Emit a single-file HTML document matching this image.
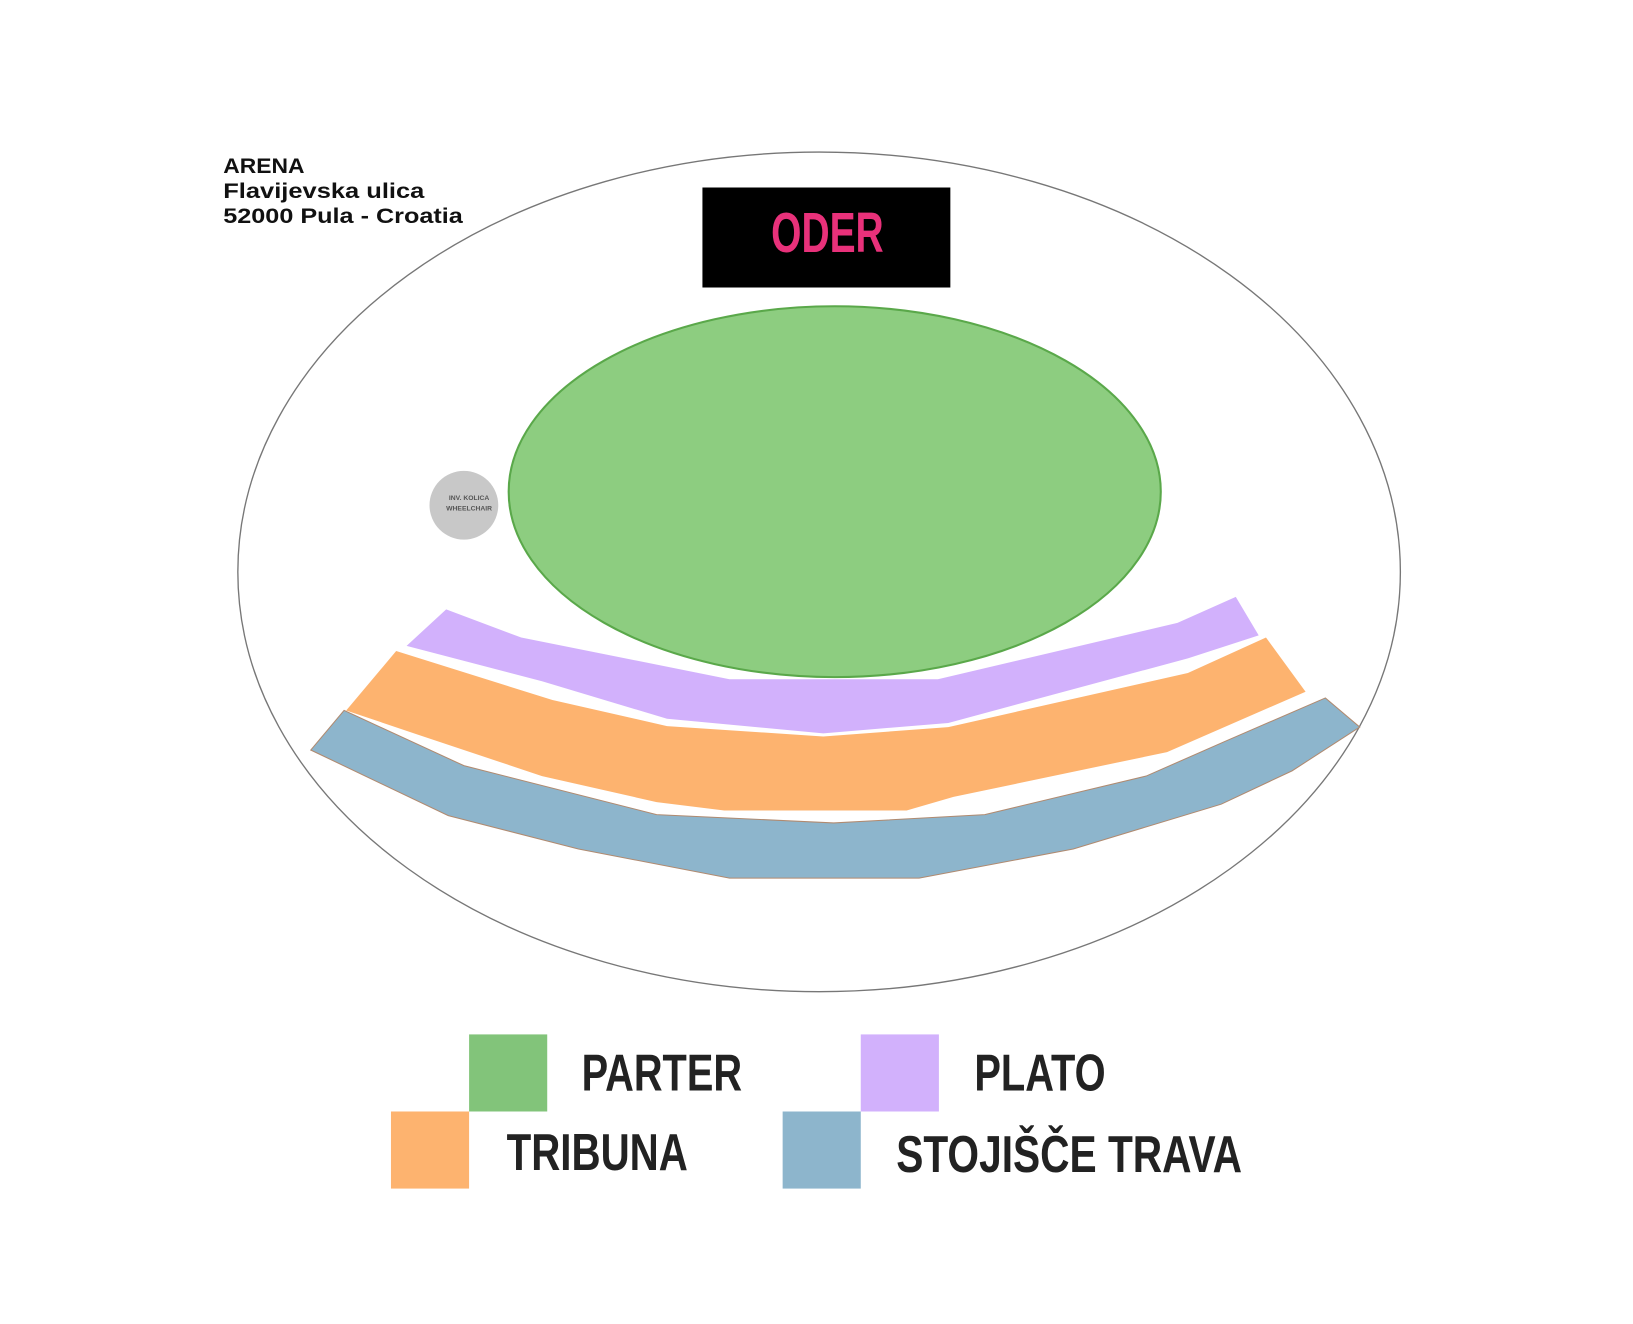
<!DOCTYPE html>
<html><head><meta charset="utf-8"><style>
html,body{margin:0;padding:0;background:#fff;}
svg{display:block;}
.n{font-family:"Liberation Sans Narrow","Liberation Sans",sans-serif;font-weight:bold;}
</style></head><body>
<svg width="1633" height="1324" viewBox="0 0 1567 1271" xmlns="http://www.w3.org/2000/svg">
<rect width="1567" height="1271" fill="#fff"/>
<ellipse cx="786" cy="549" rx="558" ry="403" fill="none" stroke="#777" stroke-width="1.3"/>
<g font-family="Liberation Sans, sans-serif" font-weight="bold" font-size="20" fill="#111">
<text x="214" y="166" textLength="78" lengthAdjust="spacingAndGlyphs">ARENA</text>
<text x="214" y="190" textLength="193" lengthAdjust="spacingAndGlyphs">Flavijevska ulica</text>
<text x="214" y="214" textLength="230" lengthAdjust="spacingAndGlyphs">52000 Pula - Croatia</text>
</g>
<rect x="674" y="180" width="238" height="96" fill="#000"/>
<text class="n" x="740" y="242" font-size="54" fill="#e8317a" textLength="108" lengthAdjust="spacingAndGlyphs">ODER</text>
<ellipse cx="801" cy="472" rx="313" ry="178" fill="#8dcd80" stroke="#5aa84a" stroke-width="2"/>
<circle cx="445" cy="485" r="33" fill="#c8c8c8"/>
<g font-family="Liberation Sans, sans-serif" font-weight="bold" font-size="6.5" fill="#555" text-anchor="middle">
<text x="450" y="480">INV. KOLICA</text><text x="450" y="490">WHEELCHAIR</text></g>
<polygon points="390,620 428,585 500,612 700,652 900,652 1130,598 1186,573 1208,610 1140,632 910,694 790,704 640,690 520,654" fill="#d2b1fc"/>
<polygon points="332,682 380,625 530,672 640,697 790,707 910,698 1140,646 1215,612 1253,664 1120,722 915,765 870,778 695,778 630,770 520,745 400,705" fill="#fdb36f"/>
<polygon points="298,720 330,682 445,735 630,782 800,790 945,782 1100,745 1175,712 1272,670 1305,698 1240,740 1172,772 1030,815 882,843 700,843 555,815 430,783" fill="#8db5cc" stroke="#b08a70" stroke-width="1"/>
<rect x="450" y="993" width="75" height="74" fill="#82c47a"/>
<rect x="826" y="993" width="75" height="74" fill="#d2b1fc"/>
<rect x="375" y="1067" width="75" height="74" fill="#fdb36f"/>
<rect x="751" y="1067" width="75" height="74" fill="#8db5cc"/>
<g class="n" font-size="50" fill="#222">
<text x="558" y="1047" textLength="154" lengthAdjust="spacingAndGlyphs">PARTER</text>
<text x="935" y="1047" textLength="126" lengthAdjust="spacingAndGlyphs">PLATO</text>
<text x="486" y="1123" textLength="174" lengthAdjust="spacingAndGlyphs">TRIBUNA</text>
<text x="860" y="1125" textLength="332" lengthAdjust="spacingAndGlyphs">STOJIŠČE TRAVA</text>
</g>
</svg>
</body></html>
